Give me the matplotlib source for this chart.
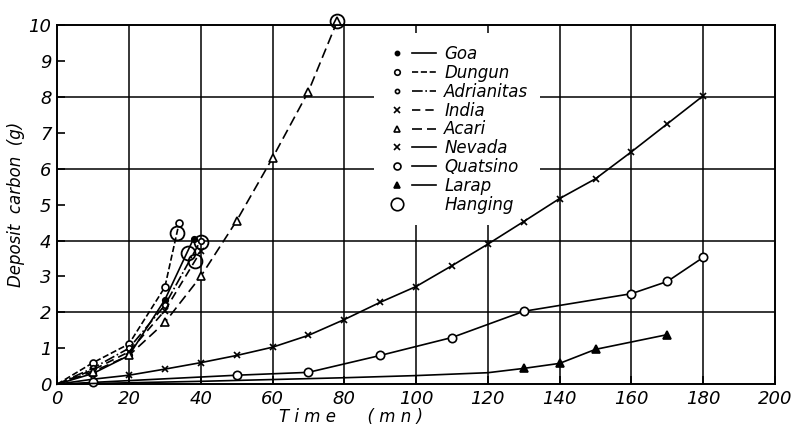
import matplotlib
matplotlib.use("Agg")
import matplotlib.pyplot as plt
from matplotlib.lines import Line2D
from matplotlib.legend_handler import HandlerTuple

# data (time in mn, deposit carbon in g)
goa_t = [0, 10, 20, 30, 38]
goa_c = [0, 0.30, 0.80, 2.35, 4.05]
dungun_t = [0, 10, 20, 30, 34]
dungun_c = [0, 0.60, 1.12, 2.70, 4.50]
adrianitas_t = [0, 10, 20, 30, 40]
adrianitas_c = [0, 0.45, 1.00, 2.20, 4.00]
india_t = [0, 10, 20, 30, 40]
india_c = [0, 0.40, 0.90, 2.05, 3.70]
acari_t = [0, 10, 20, 30, 40, 50, 60, 70, 78]
acari_c = [0, 0.35, 0.80, 1.72, 3.00, 4.55, 6.30, 8.15, 10.1]
nevada_t = [0, 10, 20, 30, 40, 50, 60, 70, 80, 90, 100, 110, 120, 130, 140, 150, 160, 170, 180]
nevada_c = [0, 0.14, 0.25, 0.42, 0.60, 0.80, 1.03, 1.36, 1.80, 2.28, 2.72, 3.30, 3.90, 4.53, 5.17, 5.72, 6.47, 7.25, 8.03]
quatsino_t = [0, 10, 50, 70, 90, 110, 130, 160, 170, 180]
quatsino_c = [0, 0.05, 0.25, 0.33, 0.80, 1.30, 2.03, 2.52, 2.86, 3.53]
larap_t = [0, 40, 80, 100, 120, 130, 140, 150, 170]
larap_c = [0, 0.08, 0.18, 0.24, 0.32, 0.44, 0.58, 0.97, 1.38]
larap_marked = [5, 6, 7, 8]
hanging_t = [33.5, 36.5, 38.5, 40, 78]
hanging_c = [4.20, 3.65, 3.42, 3.97, 10.1]

plt.rcParams['font.family'] = ['DejaVu Sans']
fig = plt.figure(figsize=(7.94, 4.25), dpi=100)
ax = fig.add_axes([0.072, 0.096, 0.904, 0.845])

k = dict(color='black', lw=1.2)
series = [
    (goa_t, goa_c, '-', 'o', 4, 'black', 'Goa', None),
    (dungun_t, dungun_c, '--', 'o', 5, 'white', 'Dungun', None),
    (adrianitas_t, adrianitas_c, '-.', 'o', 4, 'white', 'Adrianitas', None),
    (india_t, india_c, (0, (5, 3)), 'x', 5, 'black', 'India', None),
    (acari_t, acari_c, (0, (6, 3)), '^', 6, 'white', 'Acari', None),
    (nevada_t, nevada_c, '-', 'x', 5, 'black', 'Nevada', None),
    (quatsino_t, quatsino_c, '-', 'o', 6, 'white', 'Quatsino', None),
    (larap_t, larap_c, '-', '^', 6, 'black', 'Larap', larap_marked),
]

handles = []
labels = []
for t, c, ls, mk, ms, fc, name, every in series:
    if every is None:
        every = list(range(1, len(t)))  # no marker at the origin
    ax.plot(t, c, linestyle=ls, marker=mk, ms=ms, mfc=fc, mec='black',
            mew=1.2, markevery=every, zorder=3, clip_on=False, **k)
    m = Line2D([], [], ls='none', marker=mk, ms=ms - 1, mfc=fc, mec='black', mew=1.2)
    l = Line2D([], [], ls=ls, **k)
    handles.append((m, l))
    labels.append(name)

ax.plot(hanging_t, hanging_c, ls='none', marker='o', ms=10, mfc='none',
        mec='black', mew=1.3, zorder=4, clip_on=False)
handles.append((Line2D([], [], ls='none', marker='o', ms=9, mfc='none', mec='black', mew=1.2),
                Line2D([], [], ls='none')))
labels.append('Hanging')

leg = ax.legend(handles, labels, handler_map={tuple: HandlerTuple(ndivide=None, pad=0.2)},
                loc='upper left', bbox_to_anchor=(0.43, 1.0), frameon=True,
                facecolor='white', edgecolor='none', framealpha=1, fancybox=False,
                borderpad=0.7, handlelength=3.0, labelspacing=0.05, handletextpad=0.5,
                prop={'style': 'italic', 'size': 12})
leg.set_zorder(2)

ax.set_xlim(0, 200)
ax.set_ylim(0, 10)
ax.set_xticks(range(0, 201, 20))
ax.set_yticks(range(0, 11))
for x in range(20, 200, 20):
    ax.axvline(x, color='black', lw=1.1, zorder=1)
for y in range(2, 10, 2):
    ax.axhline(y, color='black', lw=1.1, zorder=1)
for s in ax.spines.values():
    s.set_linewidth(1.4)
ax.tick_params(direction='in', length=6, width=1.2, labelsize=13, pad=4)
for lab in ax.get_xticklabels() + ax.get_yticklabels():
    lab.set_fontstyle('italic')

ax.set_xlabel('T i m e      ( m n )', fontsize=12, style='italic', labelpad=0)
ax.xaxis.set_label_coords(0.41, -0.065, transform=ax.transAxes)
ax.xaxis.label.set_va('top')
ax.set_ylabel('Deposit  carbon  (g)', fontsize=12, style='italic', labelpad=4)
ax.yaxis.set_label_coords(-0.045, 0.5)

fig.savefig('out.png', dpi=100)
